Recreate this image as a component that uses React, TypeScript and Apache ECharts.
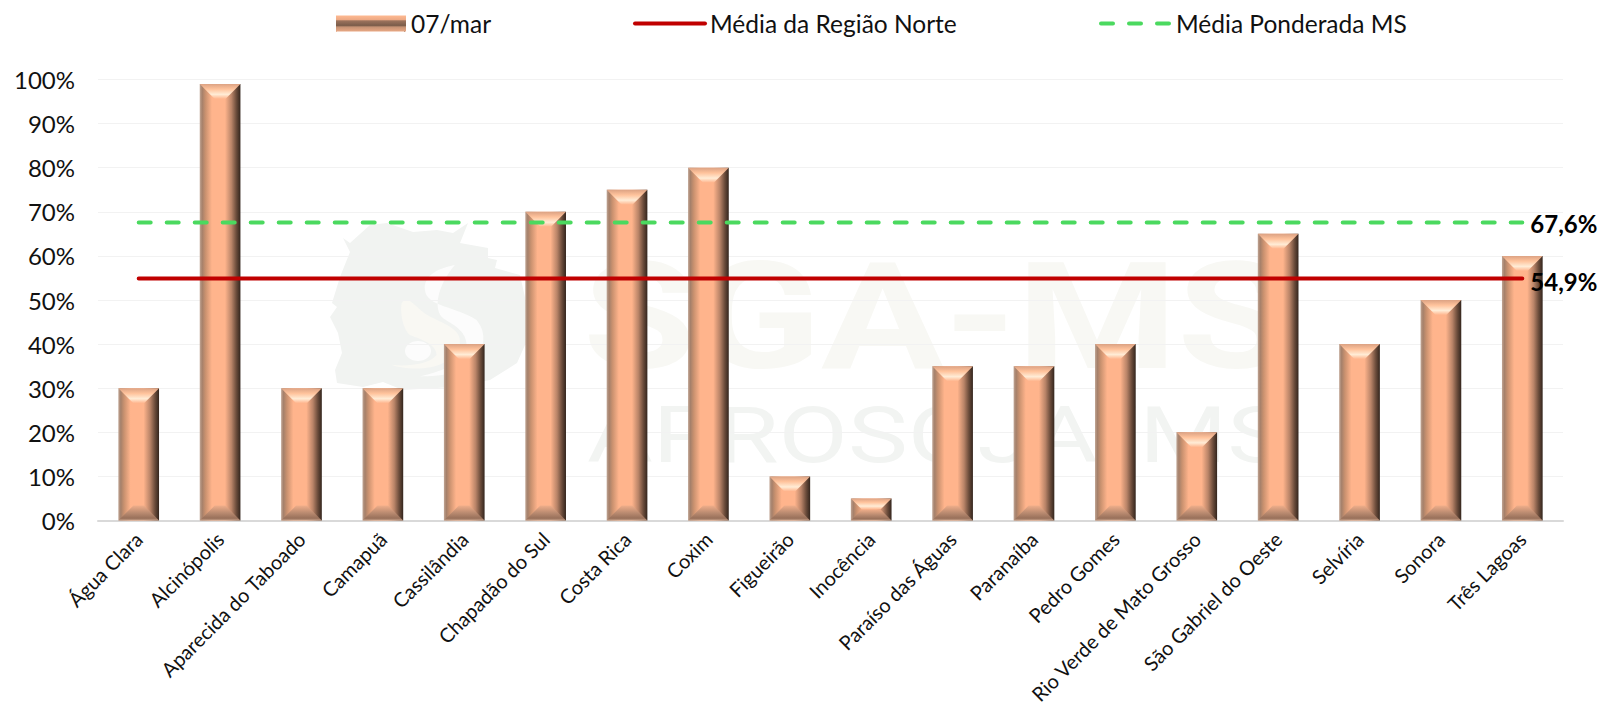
import React, { useEffect, useRef } from "react";
import * as echarts from "echarts";

const categories = ["Água Clara","Alcinópolis","Aparecida do Taboado","Camapuã","Cassilândia","Chapadão do Sul","Costa Rica","Coxim","Figueirão","Inocência","Paraíso das Águas","Paranaíba","Pedro Gomes","Rio Verde de Mato Grosso","São Gabriel do Oeste","Selvíria","Sonora","Três Lagoas"];
const marValues = [30,99,30,30,40,70,75,80,10,5,35,35,40,20,65,40,50,60];
const regiaoNorte = categories.map(() => 54.9);
const mediaMS = categories.map(() => 67.6);
const FONT = "Lato, Carlito, Calibri, sans-serif";
const WHITE_S = "M405 165C350 175 310 200 315 240C320 290 410 290 470 330C495 360 500 400 470 450C440 490 360 500 300 500C380 480 430 460 440 400C435 360 400 345 370 325C340 300 350 230 405 165Z";
const CREAM = "M245 280C265 250 290 300 330 320C380 345 425 360 420 400C415 440 370 470 310 475C280 478 240 475 215 465C260 470 330 465 350 435C350 405 310 390 270 375C250 360 240 310 245 280Z";

const grad = (x2: number, y2: number, stops: [number, string][]) =>
  new echarts.graphic.LinearGradient(0, 0, x2, y2, stops.map(([offset, color]) => ({ offset, color })));

const barFill = () => grad(1, 0, [
  [0, "#c0a594"], [0.06, "#a5806a"], [0.14, "#c9916f"], [0.3, "#ffb48c"], [0.62, "#ffb48c"],
  [0.78, "#b98468"], [0.9, "#6b4c3b"], [1, "#33251d"],
]);

function renderBevel(_: any, api: any) {
  const v = api.value(1);
  const cx = api.coord([api.value(0), v])[0];
  const top = api.coord([api.value(0), v])[1];
  const base = api.coord([api.value(0), 0])[1];
  const w = api.size([1, 0])[0] * 0.5;
  const x0 = cx - w / 2, x1 = cx + w / 2;
  const d = Math.min(15, (base - top) / 2);
  return {
    type: "group",
    children: [
      { type: "polygon", shape: { points: [[x0, top], [x1, top], [x1 - d, top + d], [x0 + d, top + d]] },
        style: { fill: grad(0, 1, [[0, "#dca283"], [0.35, "#ffc39c"], [0.7, "#ffecd6"], [1, "#ffb48c"]]) } },
      { type: "polygon", shape: { points: [[x0 + d, base - d], [x1 - d, base - d], [x1, base], [x0, base]] },
        style: { fill: grad(0, 1, [[0, "#f0ae8a"], [0.5, "#b98a70"], [0.85, "#98705a"], [1, "#c9a28a"]]) } },
    ],
  };
}

const App = () => {
  const ref = useRef<HTMLDivElement>(null);
  useEffect(() => {
    if (!ref.current) return;
    echarts.graphic.registerShape("whiteS", echarts.graphic.extendPath(WHITE_S, {}));
    echarts.graphic.registerShape("creamS", echarts.graphic.extendPath(CREAM, {}));
    const chart = echarts.init(ref.current, undefined, { renderer: "svg" });
    const legendBase = { top: 6, itemWidth: 70, itemGap: 0, selectedMode: false,
      textStyle: { fontFamily: FONT, fontSize: 24.5, color: "#111", padding: [0, 0, 0, 0] } };
    const noDot = { color: "transparent", borderColor: "transparent", borderWidth: 0, opacity: 0 };
    chart.setOption({
      animation: false,
      backgroundColor: "#fff",
      legend: [
        { ...legendBase, left: 331, itemHeight: 16, data: [{ name: "07/mar", icon: "rect",
            itemStyle: { color: grad(0, 1, [[0, "#ffba92"], [0.25, "#eeaa85"], [0.34, "#9a725c"], [0.62, "#7a5c4a"], [0.72, "#c49274"], [1, "#e9a884"]]) } }] },
        { ...legendBase, left: 628, itemHeight: 14, lineStyle: { width: 4, cap: "round" }, itemStyle: noDot, data: ["Média da Região Norte"] },
        { ...legendBase, left: 1094, itemHeight: 14, lineStyle: { width: 4, cap: "round", type: [12, 16] }, itemStyle: noDot, data: ["Média Ponderada MS"] },
      ],
      graphic: [
        { type: "group", silent: true, z: -10, children: [
          { type: "polygon", shape: { points: [[343,238],[350,243],[370,225],[387,223],[413,232],[437,230],[453,233],[468,223],[460,243],[488,248],[488,258],[497,260],[495,268],[520,275],[530,320],[533,327],[517,363],[490,380],[453,387],[403,390],[383,382],[363,387],[337,383],[335,370],[342,353],[338,333],[330,317],[337,307],[332,303],[340,277],[350,252]] },
            style: { fill: "#f1f3f1" } },
          { type: "whiteS", x: 320, y: 210, scaleX: 1 / 3, scaleY: 1 / 3, style: { fill: "#fcfcfc" } },
          { type: "creamS", x: 320, y: 210, scaleX: 1 / 3, scaleY: 1 / 3, style: { fill: "#f9f8f3" } },
          { type: "ellipse", shape: { cx: 418, cy: 351, rx: 13, ry: 10 }, style: { fill: "#fcfcfc" } },
          { type: "text", x: 583, y: 243, scaleX: 1.24, style: { text: "SGA-MS", font: "700 148px Roboto", fill: "#f8f8f4" } },
          { type: "text", x: 587, y: 397, scaleX: 1.31, style: { text: "APROSOJA/MS", font: "400 77px Roboto", fill: "#f2f4f2" } },
        ] },
        { type: "group", silent: true, z: 20, children: [
          { type: "polygon", shape: { points: [[336, 16], [345, 24], [336, 32]] }, style: { fill: "#d89a78" } },
          { type: "polygon", shape: { points: [[405, 16], [396, 24], [405, 32]] }, style: { fill: "#4a3528" } },
        ] },
      ],
      grid: { left: 98, right: 40, top: 79.5, bottom: 186.5, containLabel: false, outerBoundsMode: "none" },
      xAxis: {
        type: "category", data: categories,
        axisTick: { show: false },
        axisLine: { lineStyle: { color: "#d9d9d9", width: 2 } },
        axisLabel: { interval: 0, rotate: 45, margin: 15, fontFamily: FONT, fontSize: 20, color: "#111" },
      },
      yAxis: {
        type: "value", min: 0, max: 100, interval: 10,
        axisLine: { show: false }, axisTick: { show: false },
        splitLine: { lineStyle: { color: "#f2f2f2", width: 1 } },
        axisLabel: { margin: 23, padding: [0, 0, 3, 0], fontFamily: FONT, fontSize: 24, color: "#111", formatter: "{value}%" },
      },
      series: [
        { name: "07/mar", type: "bar", data: marValues, barWidth: "50%", z: 2,
          itemStyle: { color: barFill() } },
        { name: "Bisel", type: "custom", data: marValues.map((v, i) => [i, v]), renderItem: renderBevel, z: 3, silent: true,
          encode: { x: 0, y: 1 } },
        { name: "Média da Região Norte", type: "line", data: regiaoNorte, symbol: "none", z: 5,
          lineStyle: { color: "#c00000", width: 4, cap: "round" }, itemStyle: { color: "#c00000" },
          endLabel: { show: true, distance: 8, offset: [0, 3], fontFamily: FONT, fontSize: 24, fontWeight: "bold", color: "#000",
            formatter: (p: any) => p.value.toFixed(1).replace(".", ",") + "%" } },
        { name: "Média Ponderada MS", type: "line", data: mediaMS, symbol: "none", z: 5,
          lineStyle: { color: "#4bd95f", width: 4, type: [12, 16], cap: "round" }, itemStyle: { color: "#4bd95f" },
          endLabel: { show: true, distance: 8, offset: [0, 1], fontFamily: FONT, fontSize: 24, fontWeight: "bold", color: "#000",
            formatter: (p: any) => p.value.toFixed(1).replace(".", ",") + "%" } },
      ],
    });
    return () => chart.dispose();
  }, []);
  return <div ref={ref} style={{ position: "fixed", left: 0, top: 0, width: 1603, height: 707 }} />;
};

export default App;
